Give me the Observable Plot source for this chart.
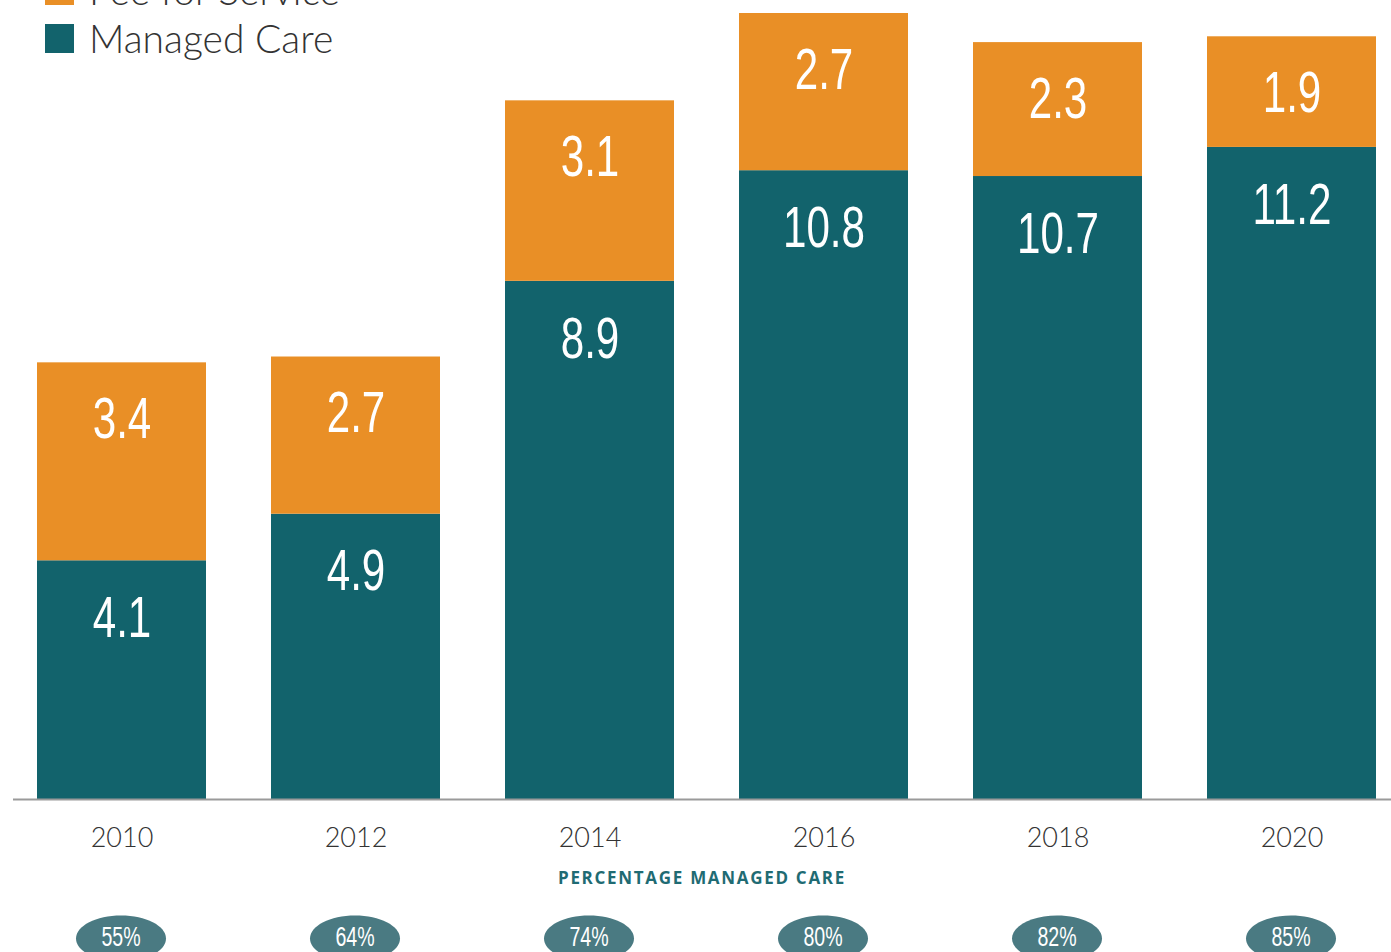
<!DOCTYPE html>
<html>
<head>
<meta charset="utf-8">
<script src="https://cdn.jsdelivr.net/npm/d3@7"></script>
<script src="https://cdn.jsdelivr.net/npm/@observablehq/plot@0.6"></script>
<style>
  html, body { margin: 0; padding: 0; background: #fff; overflow: hidden; }
  #wrap { position: relative; width: 1391px; height: 952px; overflow: hidden; }
  #chart svg { max-width: none !important; width: 1400px; height: 952px; }
  #legend { position: absolute; left: 45px; top: -34px; font-family: Lato, "Open Sans", sans-serif; font-weight: 300; color: #333; font-size: 39px; }
  .row { display: flex; align-items: center; height: 48px; }
  .sw { width: 29px; height: 29px; margin-right: 15px; }
</style>
</head>
<body>
<div id="wrap"><div id="chart"></div><div id="legend"></div></div>
<script>
const years = ["2010", "2012", "2014", "2016", "2018", "2020"];
const managedCare = [4.1, 4.9, 8.9, 10.8, 10.7, 11.2];
const feeForService = [3.4, 2.7, 3.1, 2.7, 2.3, 1.9];
const pctManaged = ["55%", "64%", "74%", "80%", "82%", "85%"];
const seriesNames = ["Managed Care", "Fee for Service"];
const seriesColors = ["#12636c", "#e98f26"];
const pctTitle = "PERCENTAGE MANAGED CARE";

const rows = [];
years.forEach((y, i) => {
  rows.push({year: y, series: seriesNames[0], value: managedCare[i]});
  rows.push({year: y, series: seriesNames[1], value: feeForService[i]});
});
const pctRows = years.map((y, i) => ({year: y, pct: pctManaged[i]}));

const ellipse = {
  draw(ctx) {
    const rx = 45, ry = 23, k = 0.5523;
    ctx.moveTo(rx, 0);
    ctx.bezierCurveTo(rx, ry * k, rx * k, ry, 0, ry);
    ctx.bezierCurveTo(-rx * k, ry, -rx, ry * k, -rx, 0);
    ctx.bezierCurveTo(-rx, -ry * k, -rx * k, -ry, 0, -ry);
    ctx.bezierCurveTo(rx * k, -ry, rx, -ry * k, rx, 0);
    ctx.closePath();
  }
};

const labelFont = '"Liberation Sans", Arial, sans-serif';
const segLabel = (name, dy) => Plot.text(rows, Plot.stackY2({
  x: "year", y: "value", z: "series",
  text: d => d.series === name ? d.value.toFixed(1) : "",
  fill: "white", fontSize: 57, fontFamily: labelFont, dy, lineAnchor: "middle"
}));

const chart = Plot.plot({
  width: 1400,
  height: 952,
  marginLeft: 13,
  marginRight: 0,
  marginTop: 13,
  marginBottom: 153,
  x: {domain: years, paddingInner: 0.278, paddingOuter: 0.1026, label: null},
  y: {domain: [0, 13.5], axis: null},
  color: {domain: seriesNames, range: seriesColors},
  marks: [
    Plot.barY(rows, {x: "year", y: "value", fill: "series"}),
    segLabel(seriesNames[0], 58),
    segLabel(seriesNames[1], 57),
    Plot.ruleY([0], {stroke: "#9a9a9a", strokeWidth: 2}),
    Plot.axisX({tickSize: 0, tickPadding: 28, fontSize: 27, fill: "#333", fontFamily: "Lato, 'Open Sans', sans-serif", fontWeight: 300, label: null}),
    Plot.text([pctTitle], {frameAnchor: "bottom", dy: 79, dx: -5, fill: "#1f6b73", fontSize: 17, fontWeight: "bold", fontFamily: "'Open Sans', sans-serif", lineAnchor: "middle"}),
    Plot.dot(pctRows, {x: "year", frameAnchor: "bottom", dy: 139, dx: -1, symbol: ellipse, fill: "#4a7a82", stroke: "none"}),
    Plot.text(pctRows, {x: "year", text: "pct", frameAnchor: "bottom", dy: 138, dx: -1, fill: "white", fontSize: 28, fontFamily: labelFont, lineAnchor: "middle"})
  ]
});
document.getElementById("chart").appendChild(chart);

// condense the label glyphs (the reference uses a condensed face)
function condense(sel, factor) {
  chart.querySelectorAll(sel).forEach(t => {
    if (!t.textContent) return;
    const len = t.getComputedTextLength();
    t.setAttribute("textLength", (len * factor).toFixed(1));
    t.setAttribute("lengthAdjust", "spacingAndGlyphs");
  });
}
condense('g[font-size="57"] text', 0.74);
condense('g[font-size="28"] text', 0.7);
chart.querySelectorAll('g[font-size="17"] text').forEach(t => {
  t.style.letterSpacing = "1.7px";
});

const legend = document.getElementById("legend");
seriesNames.slice().reverse().forEach((name) => {
  const row = document.createElement("div");
  row.className = "row";
  const sw = document.createElement("div");
  sw.className = "sw";
  sw.style.background = seriesColors[seriesNames.indexOf(name)];
  const t = document.createElement("span");
  t.textContent = name;
  row.appendChild(sw); row.appendChild(t);
  legend.appendChild(row);
});
</script>
</body>
</html>
